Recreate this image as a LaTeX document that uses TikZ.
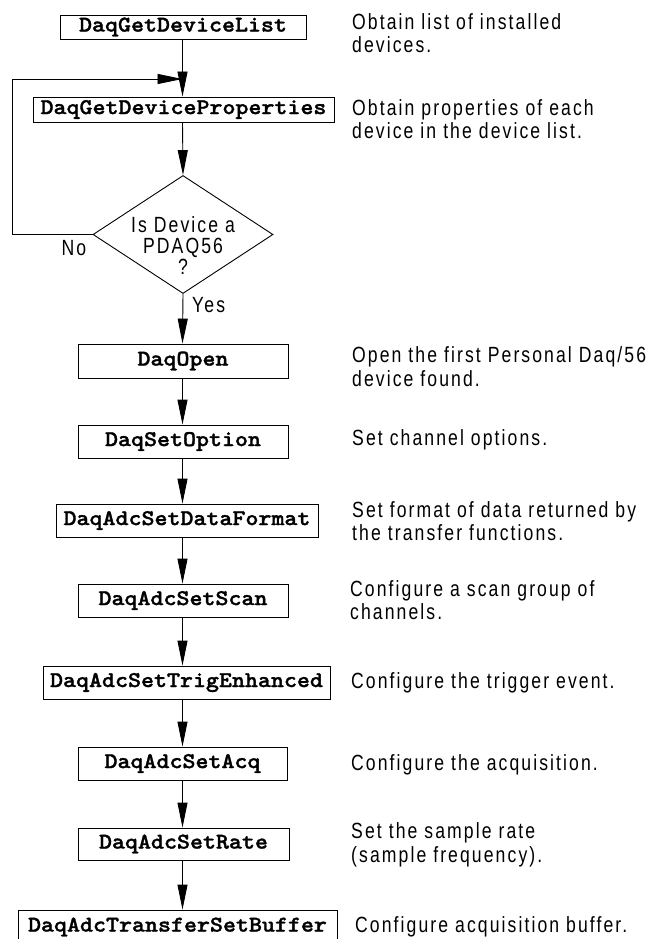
\documentclass[tikz,border=0pt]{standalone}
\usepackage{fontspec}
\usetikzlibrary{shapes.geometric,arrows.meta}
\newfontfamily\labfont[FakeStretch=0.8,LetterSpace=9.5]{Liberation Sans}
\newfontfamily\codefont[Extension=.otf,FakeBold=1.3]{lmmonolt10-bold}
\newcommand\codetxt[1]{\scalebox{1.1}[1]{\fontsize{22.5}{24}\codefont #1}}
\begin{document}
\begin{tikzpicture}[x=1pt,y=-1pt,
  box/.style={draw, line width=0.9pt, inner sep=0pt, minimum height=33pt},
  desc/.style={anchor=west, align=left, inner sep=0pt, font=\labfont\fontsize{22}{23.5}\selectfont},
  lbl/.style={inner sep=0pt, font=\labfont\fontsize{22}{21}\selectfont},
  arr/.style={line width=0.9pt, -{Triangle[length=25pt,width=10pt]}}]
\useasboundingbox (0,0) rectangle (658,939);
\clip (0,0) rectangle (658,939);
\coordinate (col) at (182.5,0);
% boxes
\node[box, minimum width=246pt, minimum height=24pt] (b1) at (183,27) {\codetxt{DaqGetDeviceList}};
\node[box, minimum width=301pt, minimum height=25pt] (b2) at (183.5,109.5) {\codetxt{DaqGetDeviceProperties}};
\node[diamond, draw, line width=0.9pt, inner sep=0pt, minimum width=180pt, minimum height=118pt] (dia) at (183,234.5) {};
\node[lbl, align=center] (q) at (183,246) {Is Device a\\PDAQ56\\?};
\node[box, minimum width=210pt, minimum height=34pt] (b3) at (183,361) {\codetxt{DaqOpen}};
\node[box, minimum width=210pt] (b4) at (183,441.5) {\codetxt{DaqSetOption}};
\node[box, minimum width=262pt] (b5) at (187,520.5) {\codetxt{DaqAdcSetDataFormat}};
\node[box, minimum width=210pt] (b6) at (183,600.5) {\codetxt{DaqAdcSetScan}};
\node[box, minimum width=287pt] (b7) at (186.5,682.5) {\codetxt{DaqAdcSetTrigEnhanced}};
\node[box, minimum width=209pt] (b8) at (182.5,763.5) {\codetxt{DaqAdcSetAcq}};
\node[box, minimum width=211pt, minimum height=32pt] (b9) at (183.5,844) {\codetxt{DaqAdcSetRate}};
\node[box, minimum width=319pt, minimum height=34pt] (b10) at (177.5,927) {\codetxt{DaqAdcTransferSetBuffer}};
% labels
\node[lbl] (no) at (74,248) {No};
\node[lbl, anchor=west] (yes) at (192,305) {Yes};
% descriptions
\node[desc] (t1) at (352,33) {Obtain list of installed\\devices.};
\node[desc] (t2) at (352,119) {Obtain properties of each\\device in the device list.};
\node[desc] (t3) at (352,366.5) {Open the first Personal Daq/56\\device found.};
\node[desc] (t4) at (352,440) {Set channel options.};
\node[desc] (t5) at (352,521) {Set format of data returned by\\the transfer functions.};
\node[desc] (t6) at (350,600) {Configure a scan group of\\channels.};
\node[desc] (t7) at (351,683) {Configure the trigger event.};
\node[desc] (t8) at (351,765) {Configure the acquisition.};
\node[desc] (t9) at (351,845) {Set the sample rate\\(sample frequency).};
\node[desc] (t10) at (355,927) {Configure acquisition buffer.};
% connectors
\coordinate (j) at (182.5,79);
\coordinate (lp) at (12,234.5);
\draw[arr] (b1.south -| col) -- (b2.north -| col);
\draw[arr] (dia.west) -- (lp) |- (j);
\draw[arr] (b2.south -| col) -- (dia.north);
\draw[arr] (dia.south) -- (b3.north -| col);
\draw[arr] (b3.south -| col) -- (b4.north -| col);
\draw[arr] (b4.south -| col) -- (b5.north -| col);
\draw[arr] (b5.south -| col) -- (b6.north -| col);
\draw[arr] (b6.south -| col) -- (b7.north -| col);
\draw[arr] (b7.south -| col) -- (b8.north -| col);
\draw[arr] (b8.south -| col) -- (b9.north -| col);
\draw[arr] (b9.south -| col) -- (b10.north -| col);
\end{tikzpicture}
\end{document}
